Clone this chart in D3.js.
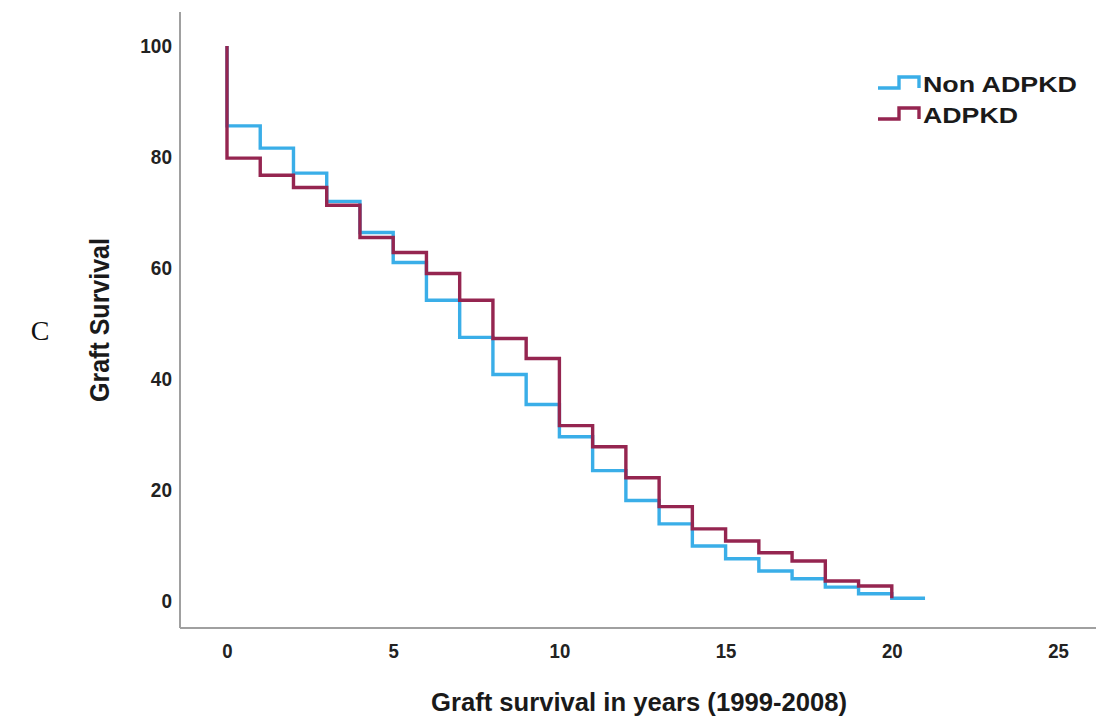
<!DOCTYPE html>
<html>
<head>
<meta charset="utf-8">
<script src="https://cdnjs.cloudflare.com/ajax/libs/d3/7.8.5/d3.min.js"></script>
<style>
  html, body { margin: 0; padding: 0; background: #fff; }
  svg { display: block; }
</style>
</head>
<body>
<script>
// ---- data ----
const years = [0, 1, 2, 3, 4, 5, 6, 7, 8, 9, 10, 11, 12, 13, 14, 15, 16, 17, 18, 19, 20];
const nonAdpkd = [85.6, 81.6, 77.1, 72.0, 66.4, 61.0, 54.2, 47.5, 40.8, 35.4, 29.6, 23.5, 18.1, 13.9, 9.9, 7.6, 5.4, 4.0, 2.5, 1.3, 0.5];
const nonAdpkdEnd = 21;
const adpkd = [79.8, 76.7, 74.5, 71.3, 65.5, 62.8, 59.0, 54.2, 47.3, 43.7, 31.6, 27.8, 22.2, 17.0, 13.0, 10.8, 8.7, 7.2, 3.6, 2.7, 0.5];
const startValue = 100;
const xTicks = [0, 5, 10, 15, 20, 25];
const yTicks = [0, 20, 40, 60, 80, 100];
const seriesNames = ["Non ADPKD", "ADPKD"];
const colors = ["#3aaee8", "#952550"];

const W = 1096, H = 719;
const svg = d3.select("body").append("svg").attr("width", W).attr("height", H);

const x = d3.scaleLinear().domain([0, 25]).range([227, 1058]);
const y = d3.scaleLinear().domain([0, 100]).range([601, 46]);

const sans = "'Liberation Sans', Arial, sans-serif";

// axis lines (frame)
const axisColor = "#a0a0a0";
svg.append("line").attr("x1", 180).attr("x2", 180).attr("y1", 12).attr("y2", 628)
  .attr("stroke", axisColor).attr("stroke-width", 2);
svg.append("line").attr("x1", 180).attr("x2", W).attr("y1", 628).attr("y2", 628)
  .attr("stroke", axisColor).attr("stroke-width", 2);

// axes via d3 (labels only, no ticks/domain)
const xAxis = svg.append("g").attr("transform", "translate(0,644)")
  .call(d3.axisBottom(x).tickValues(xTicks).tickSize(0).tickPadding(0));
xAxis.select(".domain").remove();
xAxis.selectAll("text").attr("font-family", sans).attr("font-weight", "bold")
  .attr("font-size", 20).attr("fill", "#222").attr("dy", "0.71em")
  .attr("transform", "scale(0.93,1)");

const yAxis = svg.append("g").attr("transform", "translate(172,0)")
  .call(d3.axisLeft(y).tickValues(yTicks).tickSize(0).tickPadding(0));
yAxis.select(".domain").remove();
yAxis.selectAll("text").attr("font-family", sans).attr("font-weight", "bold")
  .attr("font-size", 20).attr("fill", "#222")
  .attr("transform", "scale(0.95,1)");

// series
function buildPoints(vals, endYear) {
  const pts = [[0, startValue]];
  years.forEach((t, i) => pts.push([t, vals[i]]));
  if (endYear != null) pts.push([endYear, vals[vals.length - 1]]);
  return pts;
}
const line = d3.line().x(d => x(d[0])).y(d => y(d[1])).curve(d3.curveStepAfter);

svg.append("path").datum(buildPoints(nonAdpkd, nonAdpkdEnd))
  .attr("d", line).attr("fill", "none").attr("stroke", colors[0]).attr("stroke-width", 3.4)
  .attr("stroke-linejoin", "miter");
svg.append("path").datum(buildPoints(adpkd, null))
  .attr("d", line).attr("fill", "none").attr("stroke", colors[1]).attr("stroke-width", 3.4)
  .attr("stroke-linejoin", "miter");

// axis titles
svg.append("text").attr("x", 431).attr("y", 711)
  .attr("font-family", sans).attr("font-size", 25).attr("font-weight", "bold")
  .attr("fill", "#1a1a1a")
  .attr("textLength", 416).attr("lengthAdjust", "spacingAndGlyphs")
  .text("Graft survival in years (1999-2008)");
svg.append("text").attr("transform", "translate(109,320) scale(1.12,1) rotate(-90)")
  .attr("text-anchor", "middle")
  .attr("font-family", sans).attr("font-size", 25).attr("font-weight", "bold")
  .attr("fill", "#1a1a1a")
  .text("Graft Survival");

// panel letter
svg.append("text").attr("x", 40).attr("y", 340).attr("text-anchor", "middle")
  .attr("font-family", "'Liberation Serif', 'Times New Roman', serif").attr("font-size", 28)
  .attr("fill", "#111").text("C");

// legend
const legendWidths = [154, 95];
const legend = svg.append("g");
seriesNames.forEach((name, i) => {
  const base = 92 + i * 31;
  const low = base - 4;
  legend.append("path")
    .attr("d", `M878,${low} H899 V${low - 11} H919 V${low}`)
    .attr("fill", "none").attr("stroke", colors[i]).attr("stroke-width", 3.4);
  legend.append("text").attr("x", 923).attr("y", base)
    .attr("font-family", sans).attr("font-size", 22).attr("font-weight", "bold")
    .attr("fill", "#1a1a1a")
    .attr("textLength", legendWidths[i]).attr("lengthAdjust", "spacingAndGlyphs")
    .text(name);
});
</script>
</body>
</html>
